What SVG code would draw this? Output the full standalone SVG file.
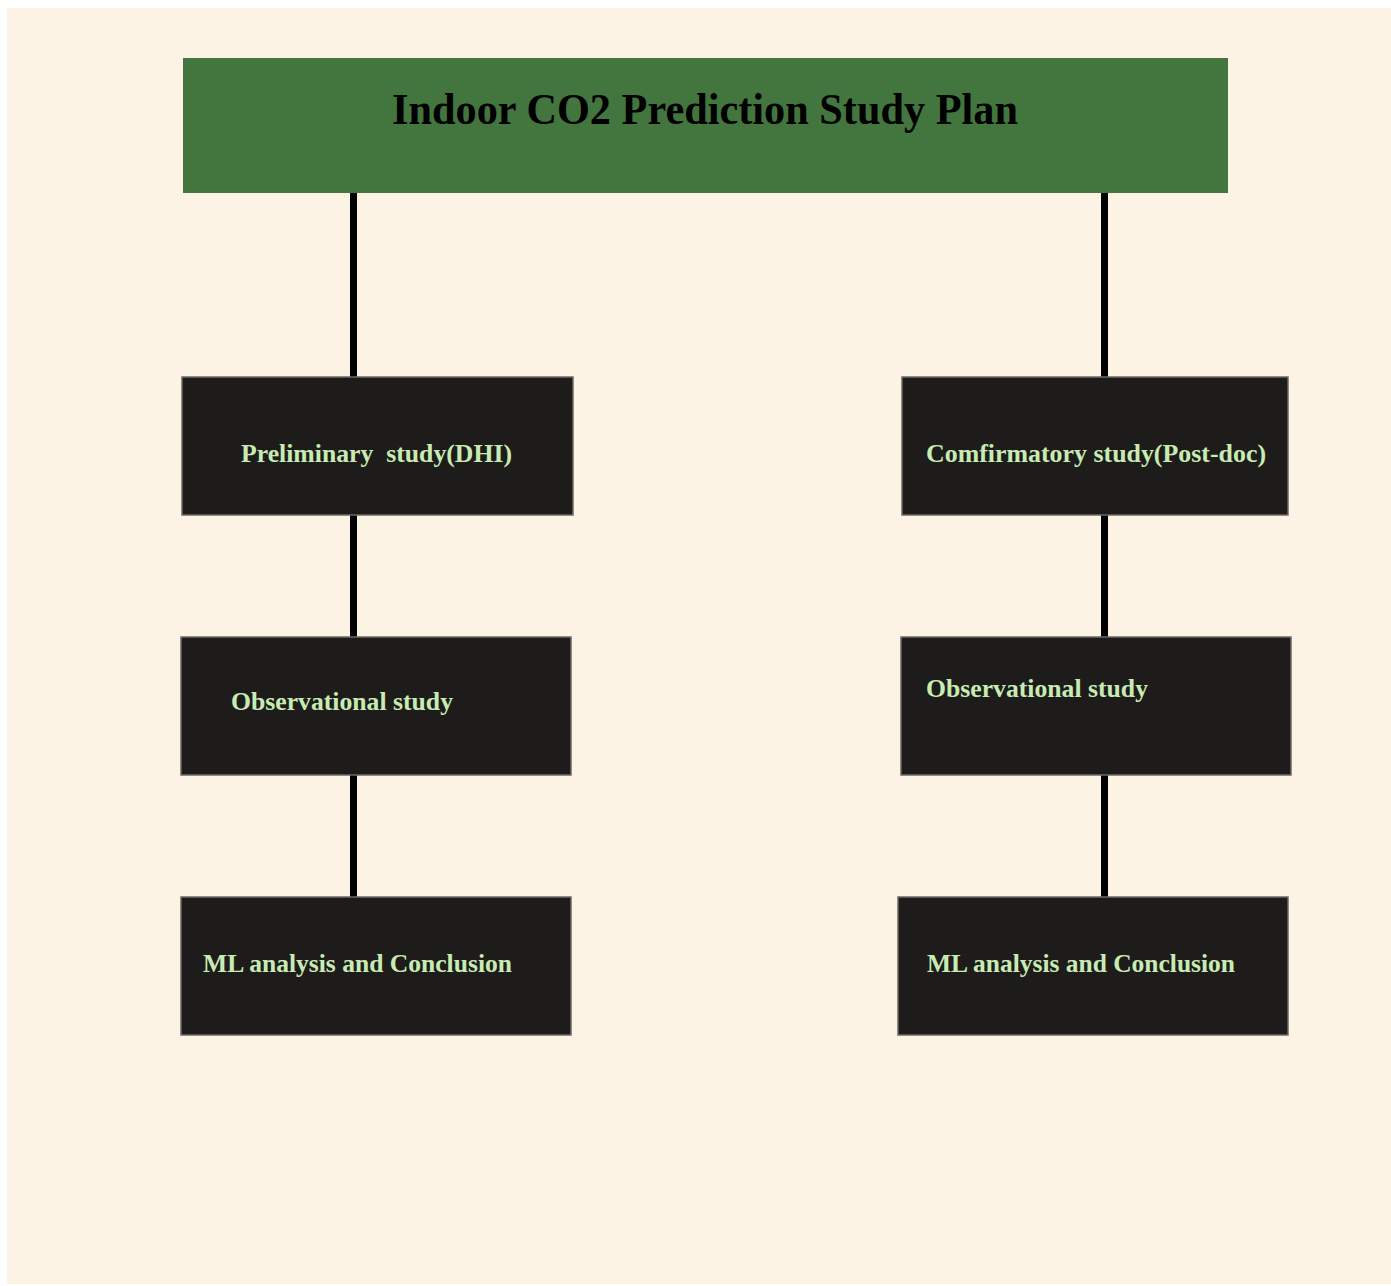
<svg xmlns="http://www.w3.org/2000/svg" width="1391" height="1286" viewBox="0 0 1391 1286">
<style>
.node rect{fill:#1e1c1a;stroke:#6e6862;stroke-width:1.5}
.node text{fill:#c8ebb4;font-family:"Liberation Serif","DejaVu Serif",serif;font-weight:bold;font-size:26px}
.title text{fill:#000;font-family:"Liberation Serif","DejaVu Serif",serif;font-weight:bold;font-size:44px}
.conn line{stroke:#000;stroke-width:7}
</style>
<rect x="0" y="0" width="1391" height="1286" fill="#ffffff"/>
<rect x="7" y="8" width="1384" height="1276" fill="#fdf3e5"/>
<g id="connectors" class="conn">
<line x1="353.5" y1="193" x2="353.5" y2="377"/>
<line x1="353.5" y1="515" x2="353.5" y2="637"/>
<line x1="353.5" y1="775" x2="353.5" y2="897"/>
<line x1="1104.5" y1="193" x2="1104.5" y2="377"/>
<line x1="1104.5" y1="515" x2="1104.5" y2="637"/>
<line x1="1104.5" y1="775" x2="1104.5" y2="897"/>
</g>
<g id="title" class="title">
<rect x="183" y="58" width="1045" height="135" fill="#42763e"/>
<text x="392" y="124" textLength="626" lengthAdjust="spacingAndGlyphs">Indoor CO2 Prediction Study Plan</text>
</g>
<g id="prelim" class="node">
<rect x="182" y="377" width="391" height="138"/>
<text x="241" y="462" textLength="271" lengthAdjust="spacingAndGlyphs" xml:space="preserve">Preliminary  study(DHI)</text>
</g>
<g id="confirm" class="node">
<rect x="902" y="377" width="386" height="138"/>
<text x="926" y="462" textLength="340" lengthAdjust="spacingAndGlyphs">Comfirmatory study(Post-doc)</text>
</g>
<g id="obs-left" class="node">
<rect x="181" y="637" width="390" height="138"/>
<text x="231" y="710" textLength="222" lengthAdjust="spacingAndGlyphs">Observational study</text>
</g>
<g id="obs-right" class="node">
<rect x="901" y="637" width="390" height="138"/>
<text x="926" y="697" textLength="222" lengthAdjust="spacingAndGlyphs">Observational study</text>
</g>
<g id="ml-left" class="node">
<rect x="181" y="897" width="390" height="138"/>
<text x="203" y="972" textLength="309" lengthAdjust="spacingAndGlyphs">ML analysis and Conclusion</text>
</g>
<g id="ml-right" class="node">
<rect x="898" y="897" width="390" height="138"/>
<text x="927" y="972" textLength="308" lengthAdjust="spacingAndGlyphs">ML analysis and Conclusion</text>
</g>
</svg>
